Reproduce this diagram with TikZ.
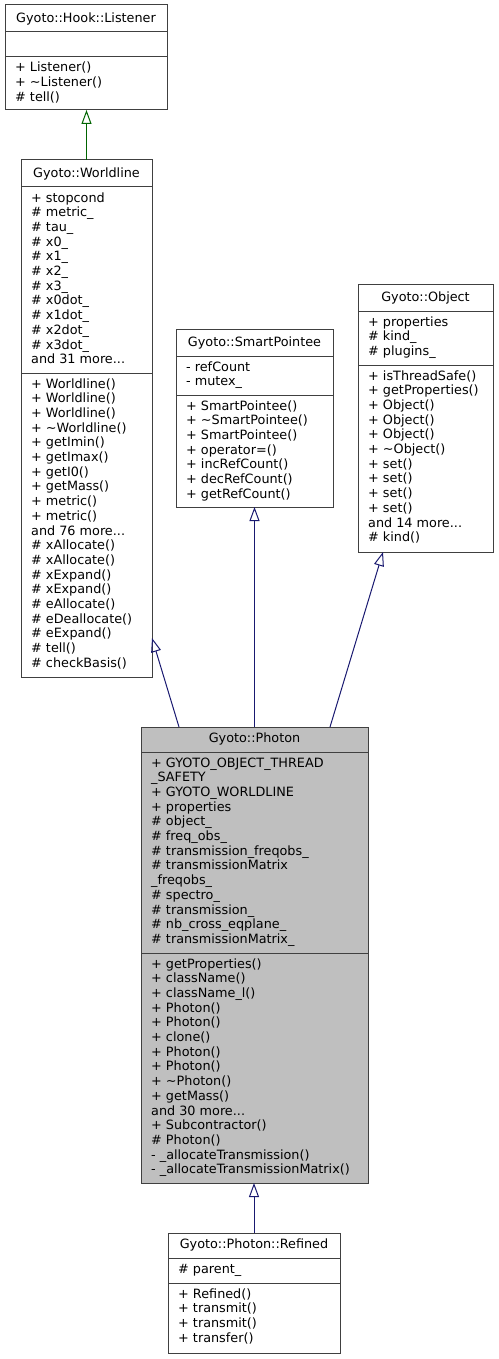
\documentclass[tikz,border=0pt]{standalone}
\usepackage{fontspec}
\setmainfont{DejaVu Sans}
\usetikzlibrary{arrows.meta}
\definecolor{bordercol}{HTML}{404040}
\definecolor{edgeblue}{HTML}{191970}
\definecolor{edgegreen}{HTML}{006400}
\definecolor{focusfill}{HTML}{BFBFBF}
\newcommand\threedots{...}
\newcommand\memberlines[3]{%
  \foreach \t [count=\i from 0] in {#3} {\node[member] at ({#1+10},{#2+15+\i*14.7}) {\t};}}
\newcommand\classbox[8]{%
  \node[classnode, fill=#8, minimum width={#3-#2}, minimum height={#7-#4}] (#1) at ({(#2+#3)/2},{(#4+#7)/2}) {};
  \draw[sepline] (#1.west |- 0,#5) -- (#1.east |- 0,#5);
  \draw[sepline] (#1.west |- 0,#6) -- (#1.east |- 0,#6);
}
\tikzset{
  classnode/.style={draw=bordercol, line width=1pt, rectangle, inner sep=0pt, outer sep=0pt},
  sepline/.style={draw=bordercol, line width=1pt},
  member/.style={anchor=base west, inner sep=0pt, font=\fontsize{12.8}{14.7}\selectfont},
  titletext/.style={anchor=base, inner sep=0pt, font=\fontsize{12.8}{14.7}\selectfont},
  inherit/.style={line width=1pt, -{Triangle[open, length=14pt, width=10pt]}},
}
\begin{document}
\begin{tikzpicture}[x=1pt, y=-1pt]
\useasboundingbox (0,0) rectangle (498,1359);

% Gyoto::Hook::Listener
\classbox{listener}{5}{167}{5}{32}{57}{110}{white}
\node[titletext] (listenerT) at (86,22.5) {Gyoto::Hook::Listener};
\memberlines{5}{57}{{+ Listener()},{+ \textasciitilde{}Listener()},{\# tell()}}

% Gyoto::Worldline
\classbox{worldline}{21}{152}{160}{187}{373}{677}{white}
\node[titletext] (worldlineT) at (86.5,177.5) {Gyoto::Worldline};
\memberlines{21}{187}{{+ stopcond},{\# metric\_},{\# tau\_},{\# x0\_},{\# x1\_},{\# x2\_},{\# x3\_},{\# x0dot\_},{\# x1dot\_},{\# x2dot\_},{\# x3dot\_},{and 31 more\threedots}}
\memberlines{21}{373}{{+ Worldline()},{+ Worldline()},{+ Worldline()},{+ \textasciitilde{}Worldline()},{+ getImin()},{+ getImax()},{+ getI0()},{+ getMass()},{+ metric()},{+ metric()},{and 76 more\threedots},{\# xAllocate()},{\# xAllocate()},{\# xExpand()},{\# xExpand()},{\# eAllocate()},{\# eDeallocate()},{\# eExpand()},{\# tell()},{\# checkBasis()}}

% Gyoto::SmartPointee
\classbox{smartpointee}{176}{333}{329}{356}{395}{507}{white}
\node[titletext] (smartpointeeT) at (254.5,346.5) {Gyoto::SmartPointee};
\memberlines{176}{356}{{- refCount},{- mutex\_}}
\memberlines{176}{395}{{+ SmartPointee()},{+ \textasciitilde{}SmartPointee()},{+ SmartPointee()},{+ operator=()},{+ incRefCount()},{+ decRefCount()},{+ getRefCount()}}

% Gyoto::Object
\classbox{object}{358}{493}{284}{311}{365}{552}{white}
\node[titletext] (objectT) at (425.5,301.5) {Gyoto::Object};
\memberlines{358}{311}{{+ properties},{\# kind\_},{\# plugins\_}}
\memberlines{358}{365}{{+ isThreadSafe()},{+ getProperties()},{+ Object()},{+ Object()},{+ Object()},{+ \textasciitilde{}Object()},{+ set()},{+ set()},{+ set()},{+ set()},{and 14 more\threedots},{\# kind()}}

% Gyoto::Photon
\classbox{photon}{141}{368}{727}{752}{953}{1183}{focusfill}
\node[titletext] (photonT) at (254.5,742.5) {Gyoto::Photon};
\memberlines{141}{752}{{+ GYOTO\_OBJECT\_THREAD},{\_SAFETY},{+ GYOTO\_WORLDLINE},{+ properties},{\# object\_},{\# freq\_obs\_},{\# transmission\_freqobs\_},{\# transmissionMatrix},{\_freqobs\_},{\# spectro\_},{\# transmission\_},{\# nb\_cross\_eqplane\_},{\# transmissionMatrix\_}}
\memberlines{141}{953}{{+ getProperties()},{+ className()},{+ className\_l()},{+ Photon()},{+ Photon()},{+ clone()},{+ Photon()},{+ Photon()},{+ \textasciitilde{}Photon()},{+ getMass()},{and 30 more\threedots},{+ Subcontractor()},{\# Photon()},{- \_allocateTransmission()},{- \_allocateTransmissionMatrix()}}

% Gyoto::Photon::Refined
\classbox{refined}{168}{340}{1233}{1258}{1283}{1353}{white}
\node[titletext] (refinedT) at (254,1248.5) {Gyoto::Photon::Refined};
\memberlines{168}{1258}{{\# parent\_}}
\memberlines{168}{1283}{{+ Refined()},{+ transmit()},{+ transmit()},{+ transfer()}}

% Inheritance connectors
\draw[inherit, edgegreen] (worldline.north) -- (worldline.north |- listener.south);
\draw[inherit, edgeblue] ([xshift=38pt]photon.north west) -- ([yshift=39pt]worldline.south east);
\draw[inherit, edgeblue] (photon.north) -- (smartpointee.south);
\draw[inherit, edgeblue] ([xshift=-38pt]photon.north east) -- ([xshift=-42.5pt]object.south);
\draw[inherit, edgeblue] (refined.north) -- (refined.north |- photon.south);
\end{tikzpicture}
\end{document}
